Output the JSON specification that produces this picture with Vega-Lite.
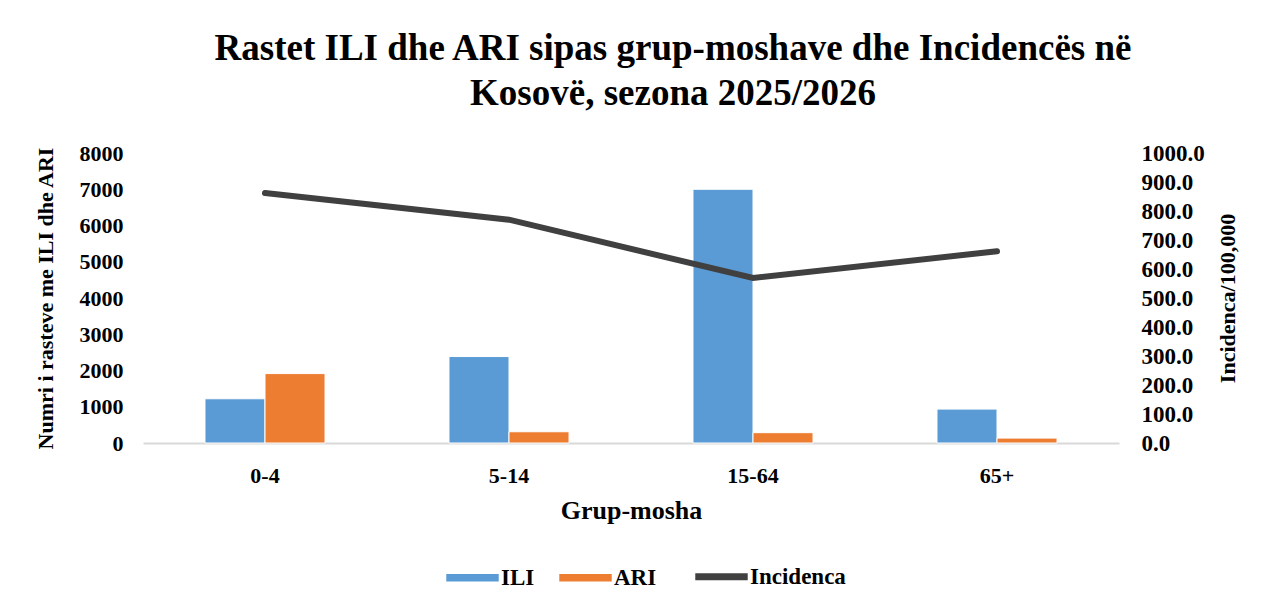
{
  "$schema": "https://vega.github.io/schema/vega-lite/v6.json",
  "width": 976,
  "height": 290,
  "autosize": {"type": "none"},
  "padding": {"left": 143, "top": 153, "right": 145, "bottom": 167},
  "background": "white",
  "config": {
    "font": "Liberation Serif",
    "view": {"stroke": null},
    "axis": {"labelFontWeight": "bold", "titleFontWeight": "bold", "labelColor": "black", "titleColor": "black", "grid": false, "ticks": false},
    "legend": {"labelFontWeight": "bold", "labelColor": "black", "labelFontSize": 23}
  },
  "title": {
    "text": ["Rastet ILI dhe ARI sipas grup-moshave dhe Incidencës në", "Kosovë, sezona 2025/2026"],
    "fontSize": 37,
    "fontWeight": "bold",
    "color": "black",
    "anchor": "middle",
    "lineHeight": 45,
    "offset": 29,
    "dx": 42
  },
  "datasets": {
    "raste": [
      {"grupmosha": "0-4", "seria": "ILI", "vlera": 1220},
      {"grupmosha": "0-4", "seria": "ARI", "vlera": 1915},
      {"grupmosha": "5-14", "seria": "ILI", "vlera": 2385},
      {"grupmosha": "5-14", "seria": "ARI", "vlera": 310},
      {"grupmosha": "15-64", "seria": "ILI", "vlera": 7000},
      {"grupmosha": "15-64", "seria": "ARI", "vlera": 285},
      {"grupmosha": "65+", "seria": "ILI", "vlera": 935},
      {"grupmosha": "65+", "seria": "ARI", "vlera": 135}
    ],
    "incidenca": [
      {"grupmosha": "0-4", "incidenca": 862},
      {"grupmosha": "5-14", "incidenca": 770},
      {"grupmosha": "15-64", "incidenca": 569},
      {"grupmosha": "65+", "incidenca": 661}
    ]
  },
  "encoding": {
    "x": {
      "field": "grupmosha",
      "type": "nominal",
      "sort": ["0-4", "5-14", "15-64", "65+"],
      "scale": {"paddingInner": 0.508, "paddingOuter": 0.254},
      "axis": {
        "title": "Grup-mosha",
        "labelAngle": 0,
        "labelFontSize": 22,
        "titleFontSize": 26,
        "labelPadding": 22,
        "titlePadding": 11,
        "domainColor": "#d9d9d9",
        "domainWidth": 2
      }
    }
  },
  "layer": [
    {
      "data": {"name": "raste"},
      "mark": {"type": "bar", "stroke": "white", "strokeWidth": 1},
      "encoding": {
        "xOffset": {"field": "seria", "type": "nominal", "sort": ["ILI", "ARI"], "scale": {"paddingInner": 0, "paddingOuter": 0}},
        "y": {
          "field": "vlera",
          "type": "quantitative",
          "scale": {"domain": [0, 8000], "nice": false},
          "axis": {
            "title": "Numri i rasteve me ILI dhe ARI",
            "values": [0, 1000, 2000, 3000, 4000, 5000, 6000, 7000, 8000],
            "format": "d",
            "labelFontSize": 22,
            "titleFontSize": 22,
            "labelPadding": 20,
            "titlePadding": 22,
            "domain": false
          }
        },
        "color": {
          "field": "seria",
          "type": "nominal",
          "scale": {"domain": ["ILI", "ARI", "Incidenca"], "range": ["#5B9BD5", "#ED7D31", "#404040"]},
          "legend": {
            "title": null,
            "orient": "none",
            "legendX": 318,
            "legendY": 412,
            "direction": "horizontal",
            "symbolType": {"expr": "datum.value === 'Incidenca' ? 'stroke' : 'M-1,-0.14H1V0.14H-1Z'"},
            "symbolSize": 2750,
            "symbolStrokeWidth": {"expr": "datum.value === 'Incidenca' ? 7 : 0"},
            "symbolStrokeColor": {"expr": "datum.value === 'Incidenca' ? '#404040' : null"},
            "symbolOpacity": 1,
            "columnPadding": 24,
            "labelOffset": 17
          }
        }
      }
    },
    {
      "data": {"name": "incidenca"},
      "mark": {"type": "line", "strokeWidth": 6, "strokeCap": "round", "strokeJoin": "miter"},
      "encoding": {
        "y": {
          "field": "incidenca",
          "type": "quantitative",
          "scale": {"domain": [0, 1000], "nice": false},
          "axis": {
            "orient": "right",
            "title": "Incidenca/100,000",
            "titleAngle": 270,
            "values": [0, 100, 200, 300, 400, 500, 600, 700, 800, 900, 1000],
            "format": ".1f",
            "labelFontSize": 23,
            "titleFontSize": 22,
            "labelPadding": 22,
            "titlePadding": 35,
            "domain": false
          }
        },
        "color": {"datum": "Incidenca", "type": "nominal"}
      }
    }
  ],
  "resolve": {"scale": {"y": "independent"}}
}
